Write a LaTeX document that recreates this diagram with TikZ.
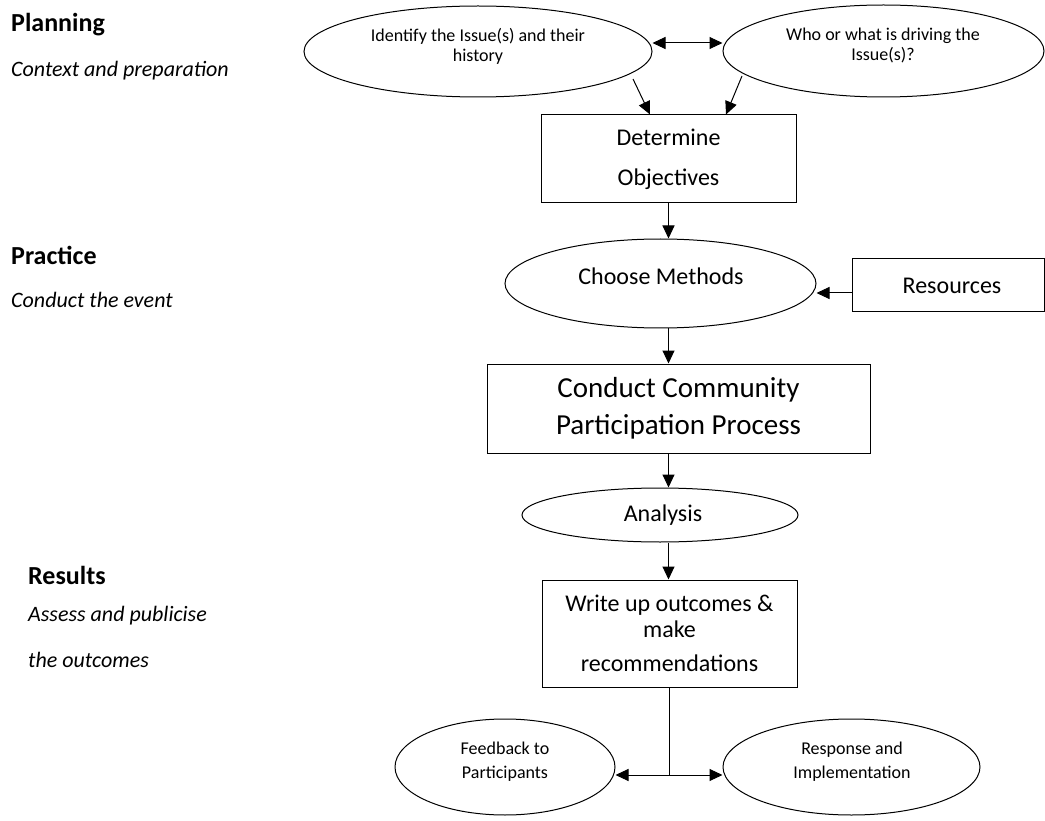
\documentclass[tikz,border=0pt]{standalone}
\usepackage{fontspec}
\setmainfont{Carlito}
\usetikzlibrary{shapes.geometric,arrows.meta,calc}
\begin{document}
\begin{tikzpicture}[x=1pt,y=-1pt,
  ell/.style={draw,ellipse,inner sep=0pt,line width=1pt},
  box/.style={draw,rectangle,inner sep=0pt,line width=1pt,align=center},
  txt/.style={inner sep=0pt,align=center},
  smalltxt/.style={txt,font=\fontsize{18}{20}\selectfont},
  midtxt/.style={font=\fontsize{24}{28}\selectfont},
  head/.style={inner sep=0pt,anchor=west,font=\fontsize{26}{30}\selectfont\bfseries},
  sub/.style={inner sep=0pt,anchor=west,font=\fontsize{22}{26}\selectfont\itshape},
  tip/.tip={Triangle[length=13pt,width=12pt]},
  conn/.style={line width=1pt,-tip},
  dconn/.style={line width=1pt,tip-tip},
  plain/.style={line width=1pt}
]
\useasboundingbox (0,0) rectangle (1045,821);

% left labels
\node[head] (planning) at (11,25) {Planning};
\node[sub] (context) at (11,71) {Context and preparation};
\node[head] (practice) at (11,255) {Practice};
\node[sub] (event) at (11,300) {Conduct the event};
\node[head] (results) at (28,575) {Results};
\node[sub] (assess) at (28,616) {Assess and publicise};
\node[sub] (outc) at (28,660) {the outcomes};

% top ellipses
\node[ell,minimum width=348pt,minimum height=91pt] (E1) at (478,51.5) {};
\node[smalltxt] (E1t) at (478,46) {Identify the Issue(s) and their\\history};
\node[ell,minimum width=321pt,minimum height=92pt] (E2) at (883.5,51) {};
\node[smalltxt] (E2t) at (883,46) {Who or what is driving the\\Issue(s)?};

% determine objectives
\node[box,minimum width=255pt,minimum height=88pt,font=\fontsize{24}{40}\selectfont] (D) at (668.5,159) {Determine\\Objectives};

% choose methods
\node[ell,minimum width=311pt,minimum height=89pt] (CM) at (660.5,283.5) {};
\node[txt,midtxt] (CMt) at (661,276) {Choose Methods};

% resources
\node[box,minimum width=192pt,minimum height=53pt,midtxt] (R) at (948,285.5) {\hspace*{8pt}Resources};

% conduct
\node[box,minimum width=383pt,minimum height=89pt,font=\fontsize{29}{37}\selectfont] (C) at (678.5,408.5) {Conduct Community\\Participation Process};

% analysis
\node[ell,minimum width=276pt,minimum height=54pt] (A) at (660,515) {};
\node[txt,midtxt] (At) at (663,515) {Analysis};

% write up
\node[box,minimum width=255pt,minimum height=107pt,font=\fontsize{24}{26}\selectfont] (W) at (669.5,633.5) {Write up outcomes \&\\make\\[8pt]recommendations};

% bottom ellipses
\node[ell,minimum width=220pt,minimum height=96pt] (F) at (505,767) {};
\node[smalltxt,font=\fontsize{18}{24}\selectfont] (Ft) at (505,762) {Feedback to\\Participants};
\node[ell,minimum width=257pt,minimum height=96pt] (Rs) at (851.5,767) {};
\node[smalltxt,font=\fontsize{18}{24}\selectfont] (Rst) at (852,762) {Response and\\Implementation};

% connectors top
\coordinate (dl) at ($(E1.east)+(0,-8.5)$);
\draw[dconn] (dl) -- (dl -| E2.west);
\draw[conn] ($(E1.center)+(155,27.5)$) -- ($(D.north)+(-18.5,0)$);
\draw[conn] ($(E2.center)+(-141.5,25)$) -- ($(D.north)+(57.5,0)$);

% main column
\draw[conn] (D.south) -- (D.south |- CM.north);
\coordinate (rw) at ($(R.west)+(0,7.5)$);
\draw[conn] (rw) -- (rw -| CM.east);
\draw[conn] (CM.south -| D.south) -- (C.north -| D.south);
\draw[conn] (C.south -| D.south) -- (A.north -| D.south);
\draw[conn] (A.south -| D.south) -- (W.north -| D.south);

% split
\coordinate (J) at (W.south |- 0,775);
\draw[plain] (W.south) -- (J);
\draw[conn] (J) -- (J -| F.east);
\draw[conn] (J) -- (J -| Rs.west);
\end{tikzpicture}
\end{document}
